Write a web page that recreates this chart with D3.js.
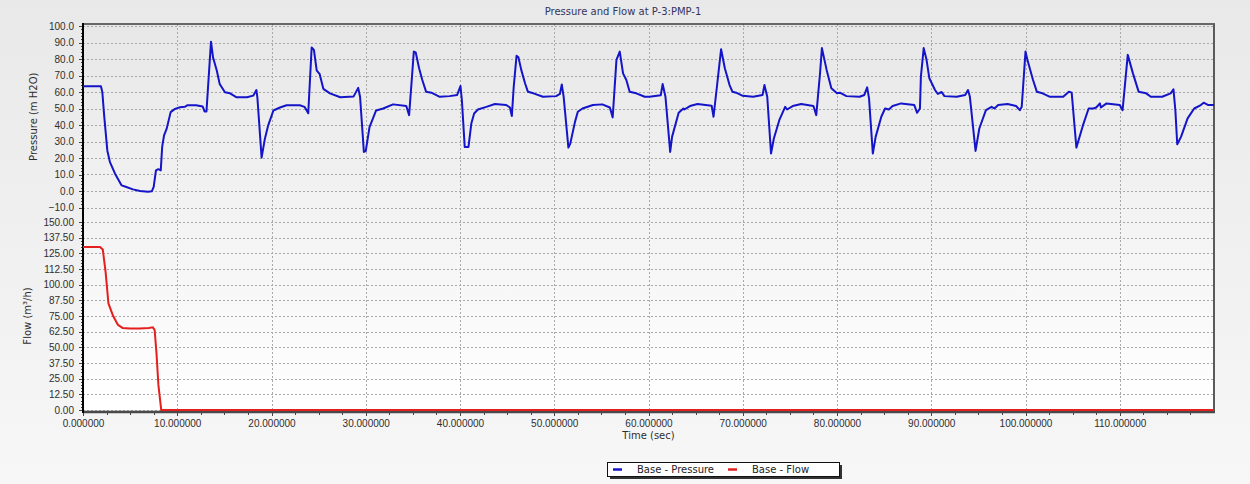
<!DOCTYPE html>
<meta charset="utf-8"/>
<style>
  body { margin: 0; background: #ececec; }
  svg { display: block; font-family: "DejaVu Sans", Verdana, sans-serif; }
  .grid line { stroke: #a9a9a9; stroke-dasharray: 2,2; shape-rendering: crispEdges; }
  .axis text { font-size: 10px; fill: #2e2e2e; }
  .axis line { stroke: #444; shape-rendering: crispEdges; }
</style>
<svg width="1250" height="484"></svg>
<script src="https://d3js.org/d3.v7.min.js"></script>
<script>

// values: [time (sec), value]
var pressure = [
  [0, 63.5], [1.9, 63.5], [2.05, 60], [2.26, 44.8], [2.58, 24.6], [2.86, 17.5], [3.4, 10.5],
  [4.1, 3.4], [4.6, 2.4], [5.3, 1.0], [6.05, 0.0], [6.9, -0.5], [7.3, -0.2], [7.5, 2.5],
  [7.74, 12.5], [7.99, 13.2], [8.25, 12.5], [8.4, 26.7], [8.6, 33.7], [8.88, 37.8], [9.3, 47.8],
  [9.76, 49.8], [10.3, 50.8], [10.8, 51], [11.1, 52], [12.0, 52], [12.7, 51.2], [12.9, 48.2],
  [13.1, 48.2], [13.58, 90.5], [13.8, 80.9], [14.2, 72.9], [14.5, 64.9], [15.06, 59.8],
  [15.6, 59.2], [16.3, 56.8], [17.4, 56.8], [18.06, 57.8], [18.4, 61.2], [18.5, 56.8],
  [18.95, 20.2], [19.3, 31.7], [19.65, 39.8], [20.2, 48.8], [20.9, 50.6], [21.6, 52],
  [23.0, 52], [23.5, 51], [23.9, 47.2], [24.26, 87], [24.5, 85.5], [24.8, 73], [25.1, 71],
  [25.5, 61.9], [26.2, 59.2], [27.3, 56.8], [28.7, 57.2], [29.2, 62.5], [29.4, 57],
  [29.8, 23.7], [30.0, 24.2], [30.4, 38.7], [31.1, 48.8], [31.85, 50], [32.9, 52.5],
  [34.3, 51.5], [34.6, 46], [34.85, 65], [35.1, 84.5], [35.3, 84], [35.66, 74.4], [36.0, 67.3],
  [36.4, 60.2], [36.97, 59.6], [37.85, 57.1], [38.9, 57.5], [39.7, 58.2], [40.05, 63.6],
  [40.2, 55], [40.5, 26.7], [40.9, 26.7], [41.2, 40.9], [41.5, 47], [41.9, 49.4], [42.8, 51],
  [43.7, 52.7], [44.9, 52.1], [45.3, 50.6], [45.5, 45.4], [45.7, 63.2], [46.0, 81.9],
  [46.2, 81], [46.5, 73.4], [46.9, 65.3], [47.2, 60.2], [47.8, 59.2], [48.8, 57.1],
  [50.2, 57.5], [50.6, 58.8], [50.8, 64.6], [51.0, 57.1], [51.5, 26.3], [51.7, 28.7],
  [52.2, 41.9], [52.5, 48], [53.0, 50], [54.1, 52.1], [55.1, 52.5], [55.9, 50.6], [56.2, 44.6],
  [56.6, 79.5], [56.95, 84.5], [57.3, 71.3], [57.65, 67.3], [58.0, 60.2], [58.7, 59.2],
  [59.6, 57.1], [60.1, 57.1], [61.3, 58], [61.5, 64.8], [61.8, 57.1], [62.3, 23.7],
  [62.5, 32.8], [63.2, 47.4], [63.7, 50], [63.8, 49.4], [64.4, 51.5], [65.2, 52.7],
  [66.7, 51.7], [66.9, 45], [67.3, 65.3], [67.7, 85.9], [68.1, 74.4], [68.6, 64.2],
  [68.9, 60.2], [69.3, 59.6], [70.0, 57.7], [71.1, 57.1], [72.1, 58.2], [72.3, 64.2],
  [72.6, 57.1], [73.0, 22.7], [73.3, 31.8], [73.9, 43.3], [74.5, 51], [74.7, 49.4],
  [75.3, 51.5], [76.2, 52.7], [77.5, 51.5], [77.8, 46], [78.2, 71.3], [78.4, 86.6],
  [78.9, 73.4], [79.4, 62.2], [80.0, 59.2], [80.3, 59.6], [81.0, 57.5], [82.4, 57.1],
  [82.9, 58.2], [83.2, 62.8], [83.4, 56.1], [83.8, 22.7], [84.1, 32.8], [84.7, 45], [85.1, 50],
  [85.5, 49.4], [85.9, 51.5], [86.8, 53.1], [88.2, 52.1], [88.5, 47.4], [88.8, 50],
  [88.9, 69.3], [89.2, 86.6], [89.5, 79.5], [89.8, 68.3], [90.4, 61.2], [90.7, 58.8],
  [91.1, 60], [91.4, 57.5], [92.7, 57.1], [93.6, 58.2], [93.9, 61.2], [94.1, 57.1],
  [94.7, 24.3], [95.1, 37.9], [95.8, 49], [96.4, 51], [96.7, 50], [97.1, 52.1], [98.1, 52.7],
  [99.0, 51.5], [99.4, 49], [99.6, 51], [100.0, 84.5], [100.2, 79.5], [100.8, 67.3],
  [101.2, 60.2], [101.8, 59.2], [102.6, 57.1], [104.0, 57.1], [104.6, 60.2], [104.9, 59.6],
  [105.4, 26.3], [106.1, 39.9], [106.7, 50], [107.2, 50], [107.5, 50.6], [107.9, 53.1],
  [108.0, 50.6], [108.6, 53.1], [110.0, 52.1], [110.3, 49], [110.85, 82.5], [111.4, 71.3],
  [112.0, 60.2], [112.8, 59.2], [113.3, 57.1], [114.5, 57.1], [115.4, 59.2], [115.7, 61.6],
  [115.9, 49], [116.1, 28.3], [116.5, 32.8], [117.2, 44], [117.9, 50], [118.6, 52.1],
  [118.9, 53.5], [119.4, 52.1], [120, 52.1]
];

var flow = [
  [0, 130], [1.8, 130], [2.1, 128], [2.4, 110], [2.7, 85], [3.2, 75], [3.7, 68], [4.2, 65.5],
  [5, 65], [6, 65], [7, 65.5], [7.4, 66], [7.6, 64], [7.8, 45], [8.0, 20], [8.3, 0], [120, 0]
];

var timeTicks = [0, 10, 20, 30, 40, 50, 60, 70, 80, 90, 100, 110];
var pressureTicks = [100, 90, 80, 70, 60, 50, 40, 30, 20, 10, 0, -10];
var flowTicks = [150, 137.5, 125, 112.5, 100, 87.5, 75, 62.5, 50, 37.5, 25, 12.5, 0];

var svg = d3.select("svg"),
  width = +svg.attr("width"),
  height = +svg.attr("height");

var plotLeft = 83, plotRight = 1214, plotTop = 24, plotBottom = 410;

var x = d3.scaleLinear().domain([0, 120]).range([plotLeft, plotRight]);
var yP = d3.scaleLinear().domain([-10, 100]).range([207.5, 26]);
var yQ = d3.scaleLinear().domain([0, 150]).range([410, 222]);

var defs = svg.append("defs");
var bg = defs.append("linearGradient").attr("id", "bg")
  .attr("x1", 0).attr("y1", 0).attr("x2", 0).attr("y2", 1);
bg.append("stop").attr("offset", "0%").attr("stop-color", "#e9e9e9");
bg.append("stop").attr("offset", "100%").attr("stop-color", "#f7f7f7");
var pbg = defs.append("linearGradient").attr("id", "pbg")
  .attr("x1", 0).attr("y1", 0).attr("x2", 0).attr("y2", 1);
pbg.append("stop").attr("offset", "0%").attr("stop-color", "#e7e7e7");
pbg.append("stop").attr("offset", "100%").attr("stop-color", "#ffffff");
defs.append("clipPath").attr("id", "plot")
  .append("rect").attr("x", plotLeft).attr("y", plotTop)
  .attr("width", plotRight - plotLeft).attr("height", plotBottom - plotTop + 2);

svg.append("rect").attr("width", width).attr("height", height).attr("fill", "url(#bg)");
svg.append("rect").attr("x", plotLeft).attr("y", plotTop)
  .attr("width", plotRight - plotLeft).attr("height", plotBottom - plotTop)
  .attr("fill", "url(#pbg)");

// grid
var grid = svg.append("g").attr("class", "grid");
grid.selectAll(".gp").data(pressureTicks).enter().append("line")
  .attr("x1", plotLeft).attr("x2", plotRight)
  .attr("y1", function (d) { return Math.round(yP(d)) + 0.5; })
  .attr("y2", function (d) { return Math.round(yP(d)) + 0.5; });
grid.selectAll(".gq").data(flowTicks).enter().append("line")
  .attr("x1", plotLeft).attr("x2", plotRight)
  .attr("y1", function (d) { return Math.round(yQ(d)) + 0.5; })
  .attr("y2", function (d) { return Math.round(yQ(d)) + 0.5; });
grid.selectAll(".gx").data(timeTicks.slice(1)).enter().append("line")
  .attr("y1", plotTop).attr("y2", plotBottom)
  .attr("x1", function (d) { return Math.round(x(d)) + 0.5; })
  .attr("x2", function (d) { return Math.round(x(d)) + 0.5; });

// axes
function minor(g, axis) {
  g.call(axis);
  g.select(".domain").remove();
  g.selectAll("text").remove();
}
svg.append("g").attr("class", "axis").attr("transform", "translate(" + plotLeft + ",0)")
  .call(minor, d3.axisLeft(yP).tickValues(d3.range(-10, 100.01, 2)).tickSize(2));
svg.append("g").attr("class", "axis").attr("transform", "translate(" + plotLeft + ",0)")
  .call(minor, d3.axisLeft(yQ).tickValues(d3.range(0, 150.01, 2.5)).tickSize(2));
svg.append("g").attr("class", "axis").attr("transform", "translate(0," + (plotBottom + 2) + ")")
  .call(minor, d3.axisBottom(x).tickValues(d3.range(0, 120, 2.5)).tickSize(3));

var axP = svg.append("g").attr("class", "axis").attr("transform", "translate(" + plotLeft + ",0)")
  .call(d3.axisLeft(yP).tickValues(pressureTicks).tickSize(4).tickPadding(5).tickFormat(d3.format(".1f")));
axP.select(".domain").remove();
var axQ = svg.append("g").attr("class", "axis").attr("transform", "translate(" + plotLeft + ",0)")
  .call(d3.axisLeft(yQ).tickValues(flowTicks).tickSize(4).tickPadding(5).tickFormat(d3.format(".2f")));
axQ.select(".domain").remove();
var axX = svg.append("g").attr("class", "axis").attr("transform", "translate(0," + (plotBottom + 2) + ")")
  .call(d3.axisBottom(x).tickValues(timeTicks).tickSize(4).tickPadding(4).tickFormat(d3.format(".6f")));
axX.select(".domain").remove();

// frame
svg.append("line").attr("x1", plotLeft - 1).attr("x2", plotRight + 1).attr("y1", plotTop).attr("y2", plotTop)
  .attr("stroke", "#3c3c3c").attr("stroke-width", 1.5);
svg.append("line").attr("x1", plotRight).attr("x2", plotRight).attr("y1", plotTop).attr("y2", plotBottom + 3)
  .attr("stroke", "#5a5a5a").attr("stroke-width", 2);
svg.append("line").attr("x1", plotLeft).attr("x2", plotRight + 1).attr("y1", plotBottom + 2).attr("y2", plotBottom + 2)
  .attr("stroke", "#4a4a4a").attr("stroke-width", 2.5);
svg.append("line").attr("x1", plotLeft).attr("x2", plotLeft).attr("y1", plotTop - 1).attr("y2", plotBottom + 3)
  .attr("stroke", "#000").attr("stroke-width", 2);

// series
var line = d3.line()
  .x(function (d) { return x(d[0]); });

svg.append("path")
  .datum(flow)
  .attr("clip-path", "url(#plot)")
  .attr("fill", "none")
  .attr("stroke", "#e3201e")
  .attr("stroke-width", 2)
  .attr("d", line.y(function (d) { return yQ(d[1]); }));

svg.append("path")
  .datum(pressure)
  .attr("clip-path", "url(#plot)")
  .attr("fill", "none")
  .attr("stroke", "#1414c8")
  .attr("stroke-width", 2)
  .attr("stroke-linejoin", "round")
  .attr("d", line.y(function (d) { return yP(d[1]); }));

// titles
svg.append("text").attr("x", 623).attr("y", 15)
  .attr("text-anchor", "middle").attr("font-size", 10).attr("fill", "#34345e")
  .text("Pressure and Flow at P-3:PMP-1");
svg.append("text").attr("x", (plotLeft + plotRight) / 2).attr("y", 439)
  .attr("text-anchor", "middle").attr("font-size", 10).attr("fill", "#2e2e2e")
  .text("Time (sec)");
svg.append("text").attr("transform", "translate(37," + yP(45) + ") rotate(-90)")
  .attr("text-anchor", "middle").attr("font-size", 10).attr("fill", "#2e2e2e")
  .text("Pressure (m H2O)");
svg.append("text").attr("transform", "translate(31," + yQ(75) + ") rotate(-90)")
  .attr("text-anchor", "middle").attr("font-size", 10).attr("fill", "#2e2e2e")
  .text("Flow (m³/h)");

// legend
var legend = svg.append("g").attr("transform", "translate(607,462)");
legend.append("rect").attr("x", 3).attr("y", 3).attr("width", 232).attr("height", 14).attr("fill", "#333");
legend.append("rect").attr("x", 0.5).attr("y", 0.5).attr("width", 232).attr("height", 14)
  .attr("fill", "#fff").attr("stroke", "#111");
var items = [["Base - Pressure", "#1414c8", 6], ["Base - Flow", "#e3201e", 121]];
items.forEach(function (it) {
  legend.append("line").attr("x1", it[2]).attr("x2", it[2] + 9).attr("y1", 7.5).attr("y2", 7.5)
    .attr("stroke", it[1]).attr("stroke-width", 2.5);
  legend.append("text").attr("x", it[2] + 24).attr("y", 11).attr("font-size", 10).attr("fill", "#222")
    .text(it[0]);
});

</script>
